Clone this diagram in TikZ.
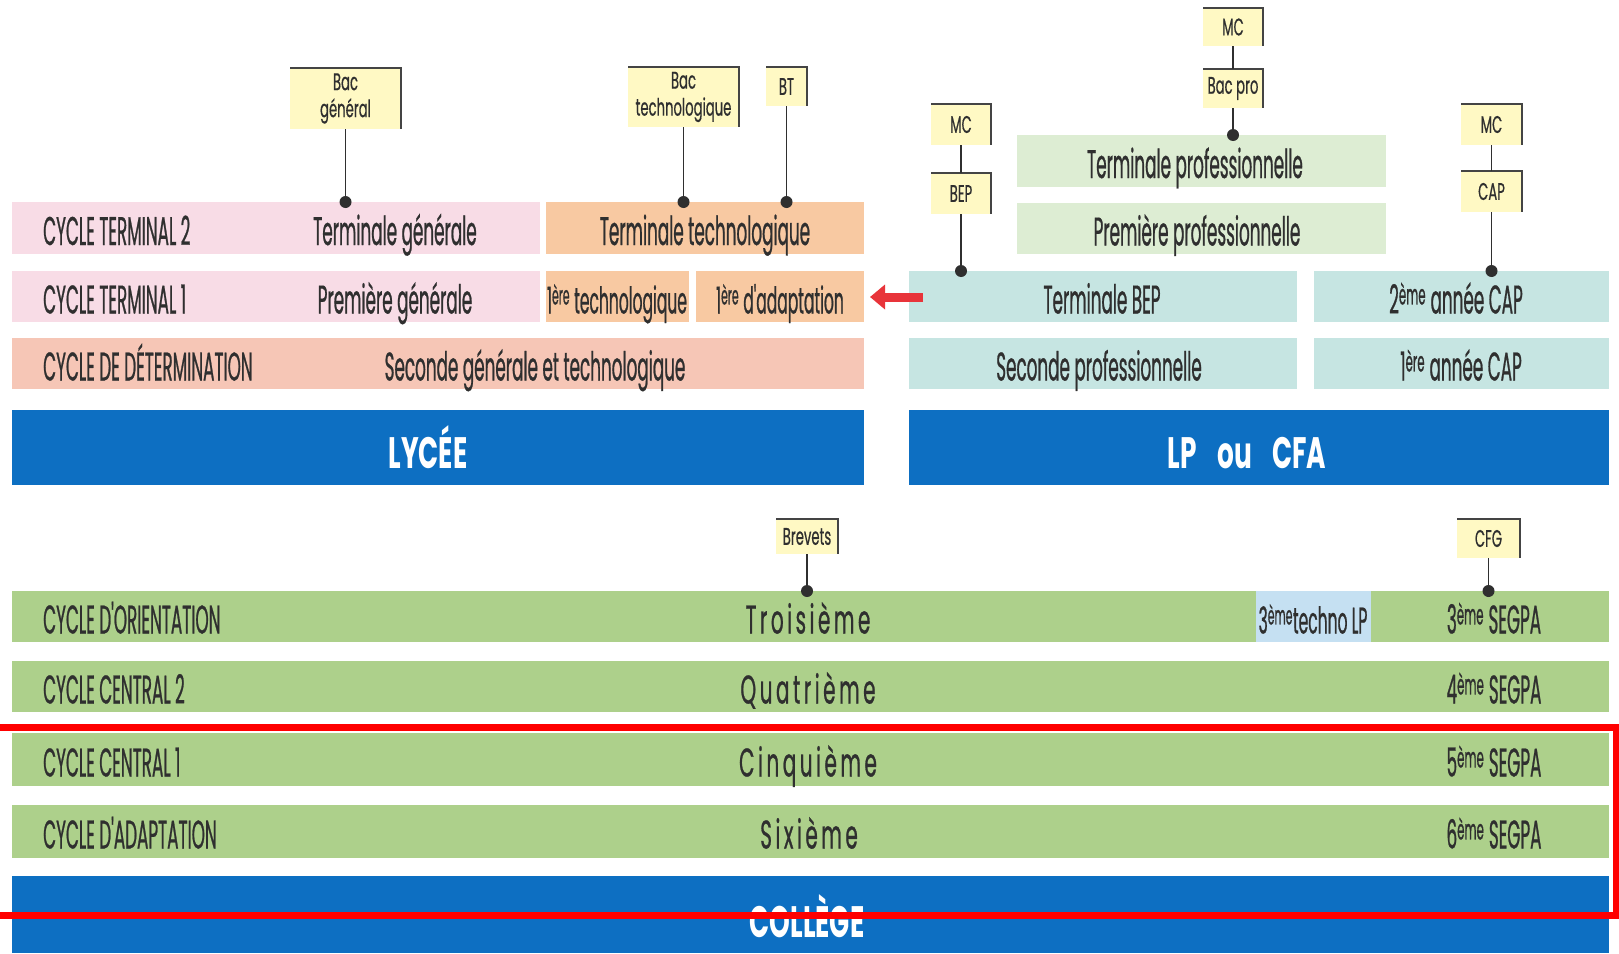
\documentclass[tikz,border=0pt]{standalone}
\usepackage{fontspec}
\setmainfont{Poppins}
\newfontfamily\cnd[FakeStretch=0.42,FakeBold=0.6]{Poppins}
\newfontfamily\cndw[FakeStretch=0.5,FakeBold=0.6]{Poppins}
\newfontfamily\cnds[FakeStretch=0.55,FakeBold=0.5]{Poppins}
\newfontfamily\cndb[FakeStretch=0.6]{Poppins}
\usetikzlibrary{arrows.meta}
\definecolor{pinkbar}{HTML}{F8DCE6}
\definecolor{peach}{HTML}{F8C9A2}
\definecolor{salmon}{HTML}{F6C6B6}
\definecolor{palegreen}{HTML}{DDEDD3}
\definecolor{paleteal}{HTML}{C6E5E2}
\definecolor{bluebar}{HTML}{0D6FC2}
\definecolor{greenbar}{HTML}{ADD08B}
\definecolor{lightblue}{HTML}{C5E0F2}
\definecolor{yel}{HTML}{FFF9C4}
\definecolor{ink}{HTML}{2F2F2F}
\definecolor{arrowred}{HTML}{E8343A}
\def\spaced#1{\spacedA#1\relax\relax}
\def\spacedA#1#2{#1\ifx\relax#2\else\kern3.5pt\expandafter\spacedA\expandafter#2\fi}
\tikzset{
  bar/.style={draw=none,inner sep=0,outer sep=0,anchor=north west},
  txt/.style={anchor=base,inner sep=0,text=ink,font={\cnd\fontsize{40pt}{44pt}\selectfont}},
  stxt/.style={txt,font={\cnd\fontsize{37pt}{40pt}\selectfont}},
  ltxt/.style={txt,anchor=base west},
  wtxt/.style={anchor=base,inner sep=0,text=ink,font={\cndw\fontsize{40pt}{44pt}\selectfont}},
  btxt/.style={anchor=base,inner sep=0,text=white,font={\cndb\bfseries\fontsize{44pt}{48pt}\selectfont}},
  ybox/.style={fill=yel,inner sep=0,outer sep=0,text=ink,align=center,font={\cnds\fontsize{24pt}{24pt}\selectfont}},
  edge/.style={draw=ink!90,line width=2.5pt},
  conn/.style={draw=ink,line width=1.8pt},
  dot/.style={circle,fill=ink,inner sep=0,outer sep=0,minimum size=12pt},
  redarrow/.style={draw=arrowred,line width=9pt,-{Triangle[width=24pt,length=15pt]}},
  overlay/.style={draw=red,line width=7pt}
}
\begin{document}
\begin{tikzpicture}[x=1pt,y=-1pt]
\fill[white] (0,0) rectangle (1619,953);
\useasboundingbox (0,0) rectangle (1619,953);

% ---- Lycee bars
\node[bar,fill=pinkbar,minimum width=528pt,minimum height=52pt] (ct2) at (12,202) {};
\node[bar,fill=peach,minimum width=318pt,minimum height=52pt] (ttech) at (546,202) {};
\node[bar,fill=pinkbar,minimum width=528pt,minimum height=51pt] (ct1) at (12,271) {};
\node[bar,fill=peach,minimum width=143pt,minimum height=51pt] (ptech) at (546,271) {};
\node[bar,fill=peach,minimum width=168pt,minimum height=51pt] (adapt) at (696,271) {};
\node[bar,fill=salmon,minimum width=852pt,minimum height=51pt] (cd) at (12,338) {};
\node[bar,fill=bluebar,minimum width=852pt,minimum height=75pt] (lycee) at (12,410) {};

% ---- LP bars
\node[bar,fill=palegreen,minimum width=369pt,minimum height=52pt] (tpro) at (1017,135) {};
\node[bar,fill=palegreen,minimum width=369pt,minimum height=51pt] (ppro) at (1017,203) {};
\node[bar,fill=paleteal,minimum width=388pt,minimum height=51pt] (tbep) at (909,271) {};
\node[bar,fill=paleteal,minimum width=295pt,minimum height=51pt] (cap2) at (1314,271) {};
\node[bar,fill=paleteal,minimum width=388pt,minimum height=51pt] (spro) at (909,338) {};
\node[bar,fill=paleteal,minimum width=295pt,minimum height=51pt] (cap1) at (1314,338) {};
\node[bar,fill=bluebar,minimum width=700pt,minimum height=75pt] (lp) at (909,410) {};

% ---- College bars
\node[bar,fill=greenbar,minimum width=1597pt,minimum height=51pt] (orient) at (12,591) {};
\node[bar,fill=lightblue,minimum width=115pt,minimum height=51pt] (tlp) at (1256,591) {};
\node[bar,fill=greenbar,minimum width=1597pt,minimum height=51pt] (cc2) at (12,661) {};
\node[bar,fill=greenbar,minimum width=1597pt,minimum height=53pt] (cc1) at (12,733) {};
\node[bar,fill=greenbar,minimum width=1597pt,minimum height=53pt] (cad) at (12,805) {};
\node[bar,fill=bluebar,minimum width=1597pt,minimum height=77pt] (college) at (12,876) {};

% ---- texts
\node[ltxt] (t1) at (43,245) {CYCLE TERMINAL 2};
\node[ltxt] (t2) at (43,313.5) {CYCLE TERMINAL 1};
\node[ltxt] (t3) at (43,380.5) {CYCLE DE DÉTERMINATION};
\node[txt] (t4) at (395,245) {Terminale générale};
\node[txt] (t5) at (705,245) {Terminale technologique};
\node[txt] (t6) at (395,313.5) {Première générale};
\node[stxt] (t7) at (617,313.5) {1\textsuperscript{ère} technologique};
\node[stxt] (t8) at (780,313.5) {1\textsuperscript{ère} d'adaptation};
\node[txt] (t9) at (535,380.5) {Seconde générale et technologique};
\node[btxt] (t10) at (428,468) {LYCÉE};
\node[txt] (t11) at (1195,178) {Terminale professionnelle};
\node[txt] (t12) at (1197,245.5) {Première professionnelle};
\node[txt] (t13) at (1102,313.5) {Terminale BEP};
\node[txt] (t14) at (1456,313.5) {2\textsuperscript{ème} année CAP};
\node[txt] (t15) at (1099,380.5) {Seconde professionnelle};
\node[txt] (t16) at (1461,380.5) {1\textsuperscript{ère} année CAP};
\node[btxt] (t17) at (1247,468) {LP\,\, ou\,\, CFA};
\node[ltxt] (t18) at (43,633.5) {CYCLE D'ORIENTATION};
\node[ltxt] (t19) at (43,703.5) {CYCLE CENTRAL 2};
\node[ltxt] (t20) at (43,776.5) {CYCLE CENTRAL 1};
\node[ltxt] (t21) at (43,848.5) {CYCLE D'ADAPTATION};
\node[wtxt] (t22) at (808,633.5) {\spaced{Troisième}};
\node[wtxt] (t23) at (808,703.5) {\spaced{Quatrième}};
\node[wtxt] (t24) at (808,776.5) {\spaced{Cinquième}};
\node[wtxt] (t25) at (809,848.5) {\spaced{Sixième}};
\node[stxt] (t26) at (1313,633.5) {3\textsuperscript{ème}techno LP};
\node[txt] (t27) at (1494,633.5) {3\textsuperscript{ème} SEGPA};
\node[txt] (t28) at (1494,703.5) {4\textsuperscript{ème} SEGPA};
\node[txt] (t29) at (1494,776.5) {5\textsuperscript{ème} SEGPA};
\node[txt] (t30) at (1494,848.5) {6\textsuperscript{ème} SEGPA};
\node[btxt] (t31) at (807,937) {COLLÈGE};

% ---- diploma boxes
\node[ybox,minimum width=111pt,minimum height=61pt] (bacg) at (345.5,98.5) {Bac\\[3pt]général};
\node[ybox,minimum width=111pt,minimum height=60pt] (bact) at (683.5,97) {Bac\\[3pt]technologique};
\node[ybox,minimum width=41pt,minimum height=39pt] (bt) at (786.5,86.5) {BT};
\node[ybox,minimum width=60pt,minimum height=38pt] (mctop) at (1233,27) {MC};
\node[ybox,minimum width=60pt,minimum height=39pt] (bacpro) at (1233,88.5) {Bac pro};
\node[ybox,minimum width=60pt,minimum height=41pt] (mcl) at (961,124.5) {MC};
\node[ybox,minimum width=60pt,minimum height=41pt] (bep) at (961,193.5) {BEP};
\node[ybox,minimum width=61pt,minimum height=41pt] (mcr) at (1491.5,124.5) {MC};
\node[ybox,minimum width=61pt,minimum height=41pt] (cap) at (1491.5,191.5) {CAP};
\node[ybox,minimum width=62pt,minimum height=35pt] (brev) at (807,536.5) {Brevets};
\node[ybox,minimum width=63pt,minimum height=39pt] (cfg) at (1488.5,538.5) {CFG};
\foreach \n in {bacg,bact,bt,mctop,bacpro,mcl,bep,mcr,cap,brev,cfg}
  \draw[edge] (\n.north west) -- (\n.north east) -- (\n.south east);

% ---- dots
\node[dot] (dbacg) at (345.5,202) {};
\node[dot] (dbact) at (683.5,202) {};
\node[dot] (dbt) at (786.5,202) {};
\node[dot] (dbacpro) at (1233,135) {};
\node[dot] (dbep) at (961,271) {};
\node[dot] (dcap) at (1491.5,271) {};
\node[dot] (dbrev) at (807,591) {};
\node[dot] (dcfg) at (1488.5,591) {};

% ---- connectors
\draw[conn] (bacg) -- (dbacg);
\draw[conn] (bact) -- (dbact);
\draw[conn] (bt) -- (dbt);
\draw[conn] (mctop) -- (bacpro);
\draw[conn] (bacpro) -- (dbacpro);
\draw[conn] (mcl) -- (bep);
\draw[conn] (bep) -- (dbep);
\draw[conn] (mcr) -- (cap);
\draw[conn] (cap) -- (dcap);
\draw[conn] (brev) -- (dbrev);
\draw[conn] (cfg) -- (dcfg);

% ---- red arrow
\coordinate (atail) at (923,297);
\draw[redarrow] (atail) -- ([xshift=6pt]adapt.east |- atail);

% ---- red overlay frame
\draw[overlay] (-10,727) -- (1616,727) -- (1616,915) -- (-10,915);
\end{tikzpicture}
\end{document}
